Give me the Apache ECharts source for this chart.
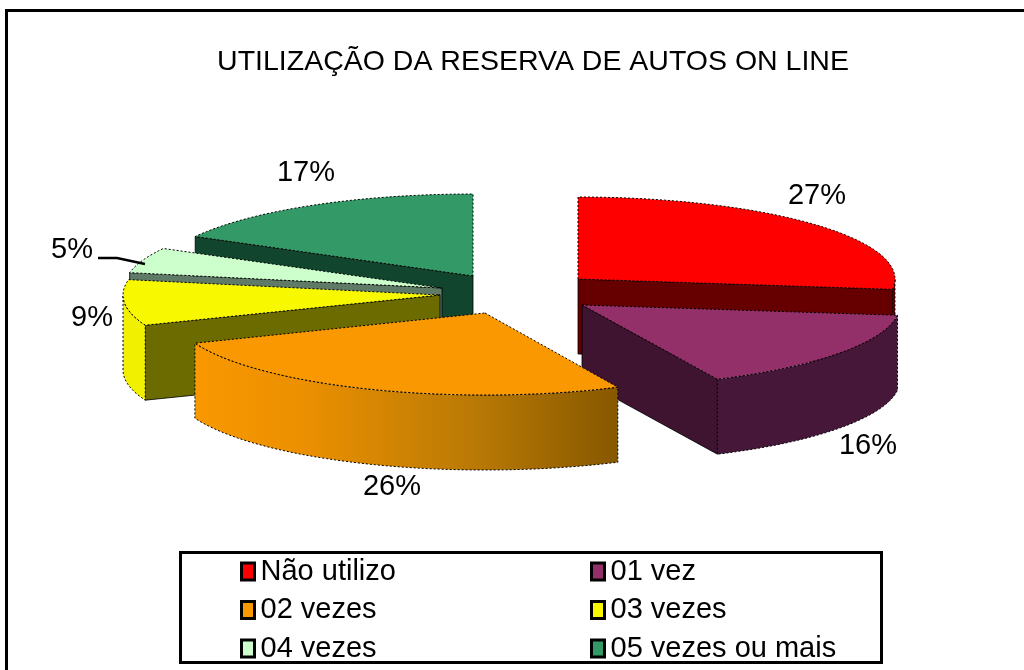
<!DOCTYPE html>
<html>
<head>
<meta charset="utf-8">
<style>html,body{margin:0;padding:0;background:#fff}#c{width:1024px;height:670px}</style>
<script src="https://cdn.jsdelivr.net/npm/echarts@6/dist/echarts.min.js"></script>
</head>
<body>
<div id="c"></div>
<script>
// ---- data ----
const chartTitle = 'UTILIZAÇÃO DA RESERVA DE AUTOS ON LINE';
const categories = ['Não utilizo', '01 vez', '02 vezes', '03 vezes', '04 vezes', '05 vezes ou mais'];
const percentages = [27, 16, 26, 9, 5, 17];

// ---- styles / layout of the exploded 3D pie ----
const topColors  = ['#ff0000', '#93306a', '#f99800', '#f8f800', '#ccffcc', '#339966'];
const cutColors  = ['#660000', '#3f1431', '#6b4400', '#6b6b00', '#5f7a66', '#12452e'];
const rimColors  = ['#660000', '#47173a', null, '#f0f000', '#8aa58a', '#1a5a3c'];
const apexX = [578, 582, 485, 440, 442, 473];
const apexY = [279, 305, 313, 295, 288, 276];
const radiusX = [317, 318, 312, 317, 318, 317];
const radiusY = 82;
const depth = 75;
const labelX = [817, 868, 392, 92, 72, 306];
const labelY = [196, 446, 487, 318, 250, 173];
const drawOrder = [5, 4, 3, 0, 1, 2];

const total = percentages.reduce((a, b) => a + b, 0);
const rad = d => d * Math.PI / 180;

function renderSlice(idx, startDeg, params, api) {
  const value = api.value(0);
  const endDeg = startDeg + value / total * 360;
  const ax = apexX[idx], ay = apexY[idx], rx = radiusX[idx];
  const pt = (deg, dy) => [ax + rx * Math.sin(rad(deg)), ay - radiusY * Math.cos(rad(deg)) + (dy || 0)];
  const arc = (a, b, dy) => {
    const out = [];
    const n = Math.max(2, Math.ceil((b - a) / 2));
    for (let i = 0; i <= n; i++) out.push(pt(a + (b - a) * i / n, dy));
    return out;
  };
  const children = [];
  const sharp = { stroke: '#000', lineWidth: 0.8 };

  // cut faces: shown only when they look towards the viewer
  const cutFace = deg => {
    const p = pt(deg);
    children.push({
      type: 'polygon',
      shape: { points: [[ax, ay], p, [p[0], p[1] + depth], [ax, ay + depth]] },
      style: Object.assign({ fill: cutColors[idx] }, sharp)
    });
  };
  if (Math.sin(rad(startDeg)) < -1e-6) cutFace(startDeg);
  if (Math.sin(rad(endDeg)) > 1e-6) cutFace(endDeg);

  // outer rim
  const a = Math.max(startDeg, 90), b = Math.min(endDeg, 270);
  if (b > a) {
    const fill = rimColors[idx] || {
      type: 'linear', x: 0, y: 0, x2: 1, y2: 0,
      colorStops: [
        { offset: 0, color: '#f99800' },
        { offset: 0.25, color: '#ec9000' },
        { offset: 0.65, color: '#bb7a05' },
        { offset: 1, color: '#875800' }
      ]
    };
    children.push({
      type: 'polygon',
      shape: { points: arc(a, b, 0).concat(arc(a, b, depth).reverse()) },
      style: { fill: fill, stroke: '#000', lineWidth: 1, lineDash: [2, 2] }
    });
  }

  // top face
  children.push({
    type: 'polygon',
    shape: { points: [[ax, ay]].concat(arc(startDeg, endDeg, 0)) },
    style: { fill: topColors[idx], stroke: '#000', lineWidth: 1, lineDash: [2, 2] }
  });

  // value label
  children.push({
    type: 'text',
    z2: 50,
    style: {
      x: labelX[idx], y: labelY[idx], text: value + '%',
      fill: '#000', font: '29px "Liberation Sans", Arial, sans-serif',
      align: 'center', verticalAlign: 'middle'
    }
  });
  return { type: 'group', children: children };
}

let cumulative = 0;
const startAngles = percentages.map(v => { const s = cumulative; cumulative += v / total * 360; return s; });

const series = drawOrder.map(idx => ({
  type: 'custom',
  name: categories[idx],
  coordinateSystem: 'none',
  silent: true,
  animation: false,
  clip: false,
  itemStyle: { color: topColors[idx] },
  data: [[percentages[idx]]],
  renderItem: (params, api) => renderSlice(idx, startAngles[idx], params, api)
}));

const legendBase = {
  orient: 'vertical',
  top: 557,
  icon: 'rect',
  itemWidth: 13,
  itemHeight: 17,
  itemGap: 9.5,
  selectedMode: false,
  itemStyle: { borderColor: '#000', borderWidth: 3 },
  textStyle: { fontFamily: '"Liberation Sans", Arial, sans-serif', fontSize: 29, color: '#000', padding: [0, 0, 0, 1] },
  padding: 0
};

const chart = echarts.init(document.getElementById('c'), null, { renderer: 'canvas' });
chart.setOption({
  backgroundColor: '#fff',
  animation: false,
  title: {
    text: chartTitle,
    left: 528, top: 43, textAlign: 'center',
    textStyle: { fontFamily: '"Liberation Sans", Arial, sans-serif', fontSize: 28.5, fontWeight: 'normal', color: '#000' }
  },
  legend: [
    Object.assign({}, legendBase, { left: 240, data: [categories[0], categories[2], categories[4]] }),
    Object.assign({}, legendBase, { left: 590, data: [categories[1], categories[3], categories[5]] })
  ],
  series: series,
  graphic: [
    { type: 'polyline', silent: true, shape: { points: [[6.5, 670], [6.5, 10.5], [1024, 10.5]] }, style: { fill: 'none', stroke: '#000', lineWidth: 3 } },
    { type: 'rect', silent: true, shape: { x: 180.5, y: 552.5, width: 701, height: 110 }, style: { fill: 'none', stroke: '#000', lineWidth: 3 } },
    { type: 'polyline', silent: true, z: 100, shape: { points: [[98, 258], [117, 258], [145, 264]] }, style: { fill: 'none', stroke: '#000', lineWidth: 2.5 } }
  ]
});
</script>
</body>
</html>
